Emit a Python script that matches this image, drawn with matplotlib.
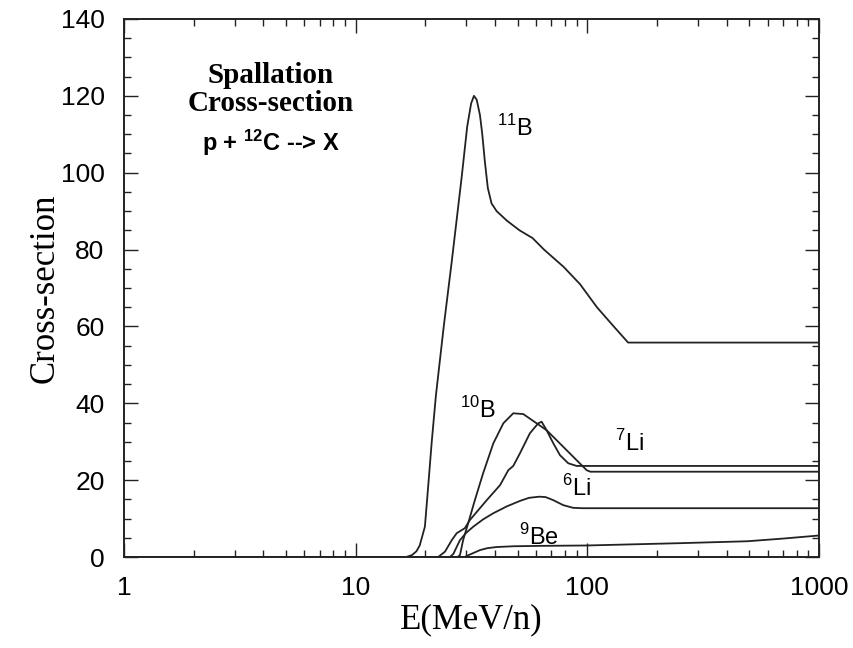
import matplotlib
matplotlib.use("Agg")
import matplotlib.pyplot as plt
from matplotlib.ticker import FuncFormatter, MultipleLocator, LogLocator, NullFormatter

# energies (MeV/n) and cross-sections
b11_e = [1, 16.5, 17.5, 18.3, 18.9, 19.9, 20.6, 21.3, 22.2, 24.0, 26.0, 28.7, 30.3, 31.5,
         32.4, 33.3, 34.4, 35.2, 36.1, 37.2, 38.6, 40.6, 45, 51, 58, 65, 79, 93, 110, 130, 150, 1000]
b11_y = [0, 0, 0.5, 1.5, 3, 7.9, 19, 30, 42, 60, 77, 99, 112, 118,
         120, 119, 115, 110, 103, 96, 92, 90, 87.5, 85, 83, 80, 75.5, 71, 65, 60, 55.8, 55.8]

b10_e = [1, 27.5, 28.2, 29.1, 30.6, 32.7, 35.5, 39.3, 43.4, 47.9, 52.9, 60.4, 66.7, 73.7,
         81.4, 89.9, 99.3, 103, 1000]
b10_y = [0, 0, 0.5, 4.4, 8.8, 14.8, 21.8, 29.6, 34.8, 37.4, 37.2, 34.8, 33.0, 30.4,
         27.8, 25.2, 22.6, 22.2, 22.2]

li7_e = [1, 22.7, 24.3, 26.0, 27.3, 29.6, 31.1, 36.8, 42.0, 45.6, 47.9, 51.2, 56.5, 61.4,
         63.5, 66.7, 71.3, 76.2, 82.7, 89.9, 1000]
li7_y = [0, 0, 1.4, 4.4, 6.2, 7.5, 9.6, 14.8, 18.7, 22.6, 23.7, 27.0, 32.2, 34.8,
         35.2, 33.0, 29.6, 26.5, 24.4, 23.7, 23.7]

li6_e = [1, 25.5, 26.4, 28.2, 30.0, 32.2, 35.5, 39.3, 45, 51.2, 56, 62, 66, 71.3, 78.7, 86.9, 95, 1000]
li6_y = [0, 0, 0.8, 4.4, 6.3, 7.9, 9.8, 11.4, 13.2, 14.6, 15.4, 15.7, 15.6, 14.8, 13.5, 12.8, 12.7, 12.7]

be9_e = [1, 29.5, 31, 34.4, 37, 40.6, 48, 62, 99, 250, 490, 700, 1000]
be9_y = [0, 0, 0.6, 1.8, 2.3, 2.6, 2.8, 2.9, 3.0, 3.6, 4.1, 4.8, 5.6]

x_ticks = [1, 10, 100, 1000]
y_ticks = [0, 20, 40, 60, 80, 100, 120, 140]

plt.rcParams['mathtext.fontset'] = 'custom'
plt.rcParams['mathtext.rm'] = 'Liberation Sans'
plt.rcParams['mathtext.bf'] = 'Liberation Sans:bold'

fig = plt.figure(figsize=(8.54, 6.48), dpi=100)
ax = fig.add_axes([0.1452, 0.1404, 0.8138, 0.8303])

col = '#222222'
for e, y in [(b11_e, b11_y), (b10_e, b10_y), (li7_e, li7_y), (li6_e, li6_y), (be9_e, be9_y)]:
    ax.plot(e, y, color=col, lw=1.3)

ax.set_xscale('log')
ax.set_xlim(1, 1000)
ax.set_ylim(0, 140)
ax.set_xticks(x_ticks)
ax.xaxis.set_major_formatter(FuncFormatter(lambda v, p: '%d' % v))
ax.xaxis.set_minor_locator(LogLocator(base=10, subs=range(2, 10)))
ax.xaxis.set_minor_formatter(NullFormatter())
ax.set_yticks(y_ticks)
ax.yaxis.set_minor_locator(MultipleLocator(5))

ax.tick_params(which='both', direction='in', top=True, right=True, color=col, width=1)
ax.tick_params(which='major', length=10, pad=14)
ax.tick_params(which='minor', length=5)
for lab in ax.get_xticklabels() + ax.get_yticklabels():
    lab.set_fontfamily('Liberation Sans')
    lab.set_fontsize(19)
for s in ax.spines.values():
    s.set_linewidth(1.4)
    s.set_color(col)

ax.set_xlabel('E(MeV/n)', fontfamily='Liberation Serif', fontsize=25, labelpad=2)
ax.set_ylabel('Cross-section', fontfamily='Liberation Serif', fontsize=25, labelpad=-1)

ax.text(4.3, 125.2, 'Spallation', fontfamily='Liberation Serif', fontweight='bold',
        fontsize=21, ha='center', va='center')
ax.text(4.3, 117.9, 'Cross-section', fontfamily='Liberation Serif', fontweight='bold',
        fontsize=21, ha='center', va='center')
ax.text(4.3, 107.7, r'p + $\mathbf{^{12}}$C --> X', fontfamily='Liberation Sans',
        fontweight='bold', fontsize=17, ha='center', va='center')

lab_kw = dict(fontfamily='Liberation Sans', fontsize=17, ha='center', va='center')
ax.text(48.7, 111.6, r'$^{11}$B', **lab_kw)
ax.text(33.7, 38.3, r'$^{10}$B', **lab_kw)
ax.text(152, 29.7, r'$^{7}$Li', **lab_kw)
ax.text(90, 18.0, r'$^{6}$Li', **lab_kw)
ax.text(62, 5.2, r'$^{9}$Be', **lab_kw)

fig.savefig('out.png', dpi=100)
